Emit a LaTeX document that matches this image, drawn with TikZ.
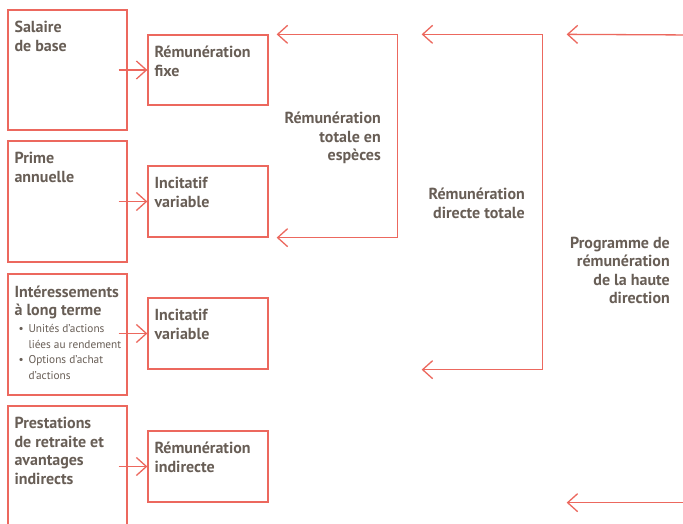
\documentclass[tikz,border=0pt]{standalone}
\usepackage{fontspec}
\setmainfont{PT Sans}
\usetikzlibrary{arrows.meta,calc}
\definecolor{lred}{RGB}{236,104,94}
\definecolor{txt}{RGB}{104,94,86}
\begin{document}
\begin{tikzpicture}[x=1pt,y=-1pt,
  box/.style={draw=lred,line width=1.3pt,inner sep=0pt,rectangle},
  srcbox/.style={box,minimum width=119pt},
  midbox/.style={box,minimum width=120pt,minimum height=71pt},
  arr/.style={draw=lred,line width=1.3pt,-{Straight Barb[length=10pt,width=18pt]}},
  arrtwo/.style={draw=lred,line width=1.3pt,{Straight Barb[length=10pt,width=18pt]}-{Straight Barb[length=10pt,width=18pt]}},
  lbl/.style={text=txt,font=\fontsize{16}{18.4}\selectfont\bfseries,inner sep=0pt,align=left,anchor=north west},
  small/.style={text=txt,font=\fontsize{11.3}{15.6}\selectfont,inner sep=0pt,align=left,anchor=north west},
  rlbl/.style={text=txt,font=\fontsize{16}{18.4}\selectfont\bfseries,inner sep=0pt,align=right,anchor=east},
]
\clip (0,0) rectangle (683,524);
\fill[white] (0,0) rectangle (683,524);

% left boxes
\node[srcbox,minimum height=120pt] (s1) at (67.5,70) {};
\node[srcbox,minimum height=121pt] (s2) at (67.5,201.5) {};
\node[srcbox,minimum height=121pt] (s3) at (67.5,334.5) {};
\node[srcbox,minimum height=128pt] (s4) at (67.5,470) {};

% middle boxes
\node[midbox,minimum height=70pt] (m1) at (208,70) {};
\node[midbox] (m2) at (208,201.5) {};
\node[midbox] (m3) at (208,333.5) {};
\node[midbox] (m4) at (208,466.5) {};

% texts in left boxes
\node[lbl] (ts1) at ($(s1.north west)+(7,10.5)$) {\strut Salaire\\de base};
\node[lbl] (ts2) at ($(s2.north west)+(7,10.5)$) {\strut Prime\\annuelle};
\node[lbl] (ts3) at ($(s3.north west)+(7,11)$) {\strut Intéressements\\à long terme};
\node[small] (ts3b) at ($(s3.north west)+(11,48)$) {\strut\makebox[10pt][l]{\textbullet}Unités d’actions\\\hspace*{10pt}liées au rendement\\\makebox[10pt][l]{\textbullet}Options d’achat\\\hspace*{10pt}d’actions};
\node[lbl] (ts4) at ($(s4.north west)+(7,10.5)$) {\strut Prestations\\de retraite et\\avantages\\indirects};

% texts in middle boxes
\node[lbl] (tm1) at ($(m1.north west)+(7,10.5)$) {\strut Rémunération\\fixe};
\node[lbl] (tm2) at ($(m2.north west)+(7,10.5)$) {\strut Incitatif\\variable};
\node[lbl] (tm3) at ($(m3.north west)+(7,10.5)$) {\strut Incitatif\\variable};
\node[lbl] (tm4) at ($(m4.north west)+(7,10.5)$) {\strut Rémunération\\indirecte};

% arrows left -> middle
\draw[arr] ([xshift=-9pt]s1.east |- m1.west) -- (m1.west);
\draw[arr] ([xshift=-9pt]s2.east |- m2.west) -- (m2.west);
\draw[arr] ([xshift=-9pt]s3.east |- m3.west) -- (m3.west);
\draw[arr] ([xshift=-9pt]s4.east |- m4.west) -- (m4.west);

% bracket 1
\coordinate (c1t) at ($(m1.north east)+(8,0)$);
\coordinate (c1b) at ($(m2.south east)+(8,0)$);
\draw[arrtwo] (c1t) -- ++(121,0) |- (c1b);
\node[rlbl] (l1) at (381,138) {Rémunération\\totale en\\espèces};

% bracket 2
\coordinate (c2t) at ($(m1.north east)+(153,0)$);
\coordinate (c2b) at ($(m3.south east)+(153,0)$);
\draw[arrtwo] (c2t) -- ++(121,0) |- (c2b);
\node[rlbl] (l2) at (525,203.5) {Rémunération\\directe totale};

% bracket 3 (continues beyond the right edge)
\coordinate (c3t) at ($(m1.north east)+(298,0)$);
\coordinate (c3b) at ($(m4.south east)+(298,0)$);
\coordinate (r1) at (695,35);
\coordinate (r2) at (695,502);
\draw[arr] (r1) -- (c3t);
\draw[arr] (r2 |- c3b) -- (c3b);
\node[rlbl] (l3) at (670,270.5) {Programme de\\rémunération\\de la haute\\direction};
\end{tikzpicture}
\end{document}
